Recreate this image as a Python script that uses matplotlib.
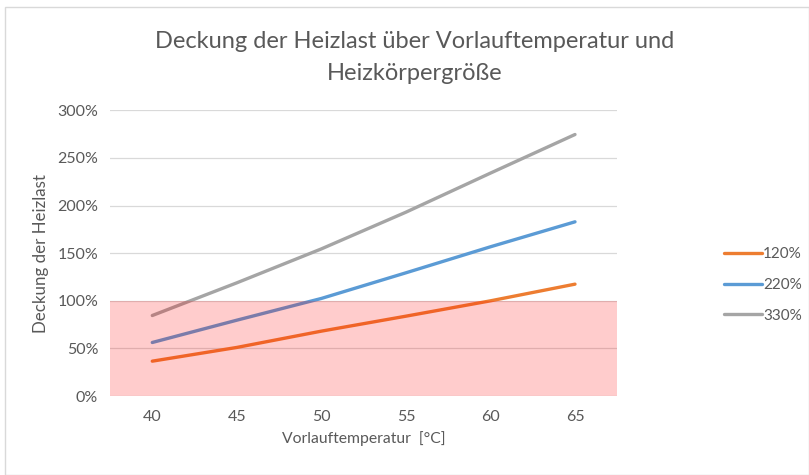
import matplotlib.pyplot as plt
from matplotlib.patches import Rectangle

plt.rcParams['font.family'] = ['Lato', 'DejaVu Sans']

temps = [40, 45, 50, 55, 60, 65]
size_120 = [36.7, 51.1, 68.2, 83.9, 100.0, 117.5]
size_220 = [56.3, 79.7, 102.5, 129.4, 156.7, 182.9]
size_330 = [84.6, 118.9, 154.5, 193.0, 234.0, 274.5]
labels = ['120%', '220%', '330%']
colors = ['#ED7D31', '#5B9BD5', '#A5A5A5']
yticks = [0, 50, 100, 150, 200, 250, 300]

text_col = '#595959'

fig = plt.figure(figsize=(8.09, 4.75), dpi=100)
fig.patches.append(Rectangle((0.006, 0.0), 0.994, 0.985, transform=fig.transFigure,
                             fill=False, edgecolor='#D9D9D9', linewidth=1))
ax = fig.add_axes([0.136, 0.166, 0.627, 0.602])

for vals, lab, col in zip([size_120, size_220, size_330], labels, colors):
    ax.plot(temps, vals, color=col, linewidth=2.4, label=lab, solid_capstyle='round', zorder=2)

# Bereich unter 100 % Deckung
ax.axhspan(0, 100, color='#FF0000', alpha=0.2, linewidth=0, zorder=3)

ax.set_xlim(37.5, 67.5)
ax.set_ylim(0, 300)
ax.set_xticks(temps)
ax.set_yticks(yticks)
ax.set_yticklabels([f'{v}%' for v in yticks])
ax.grid(axis='y', color='#D9D9D9', linewidth=0.9, zorder=1)
ax.set_axisbelow(True)
for s in ax.spines.values():
    s.set_visible(False)
ax.tick_params(length=0, labelsize=11.5, colors=text_col)
ax.tick_params(axis='x', pad=10)
ax.tick_params(axis='y', pad=8.5)

ax.set_xlabel('Vorlauftemperatur  [°C]', fontsize=11.3, color=text_col, labelpad=5)
ax.set_ylabel('Deckung der Heizlast', fontsize=12.2, color=text_col, labelpad=6)

fig.text(0.513, 0.912, 'Deckung der Heizlast über Vorlauftemperatur und', ha='center', va='center',
         fontsize=17, color=text_col)
fig.text(0.513, 0.846, 'Heizkörpergröße', ha='center', va='center', fontsize=17, color=text_col)

fig.legend(loc='center left', bbox_to_anchor=(0.878, 0.4), frameon=False, fontsize=11,
           labelcolor=text_col, handlelength=2.5, handletextpad=0.05, labelspacing=1.1)

plt.savefig('out.png', dpi=100)
